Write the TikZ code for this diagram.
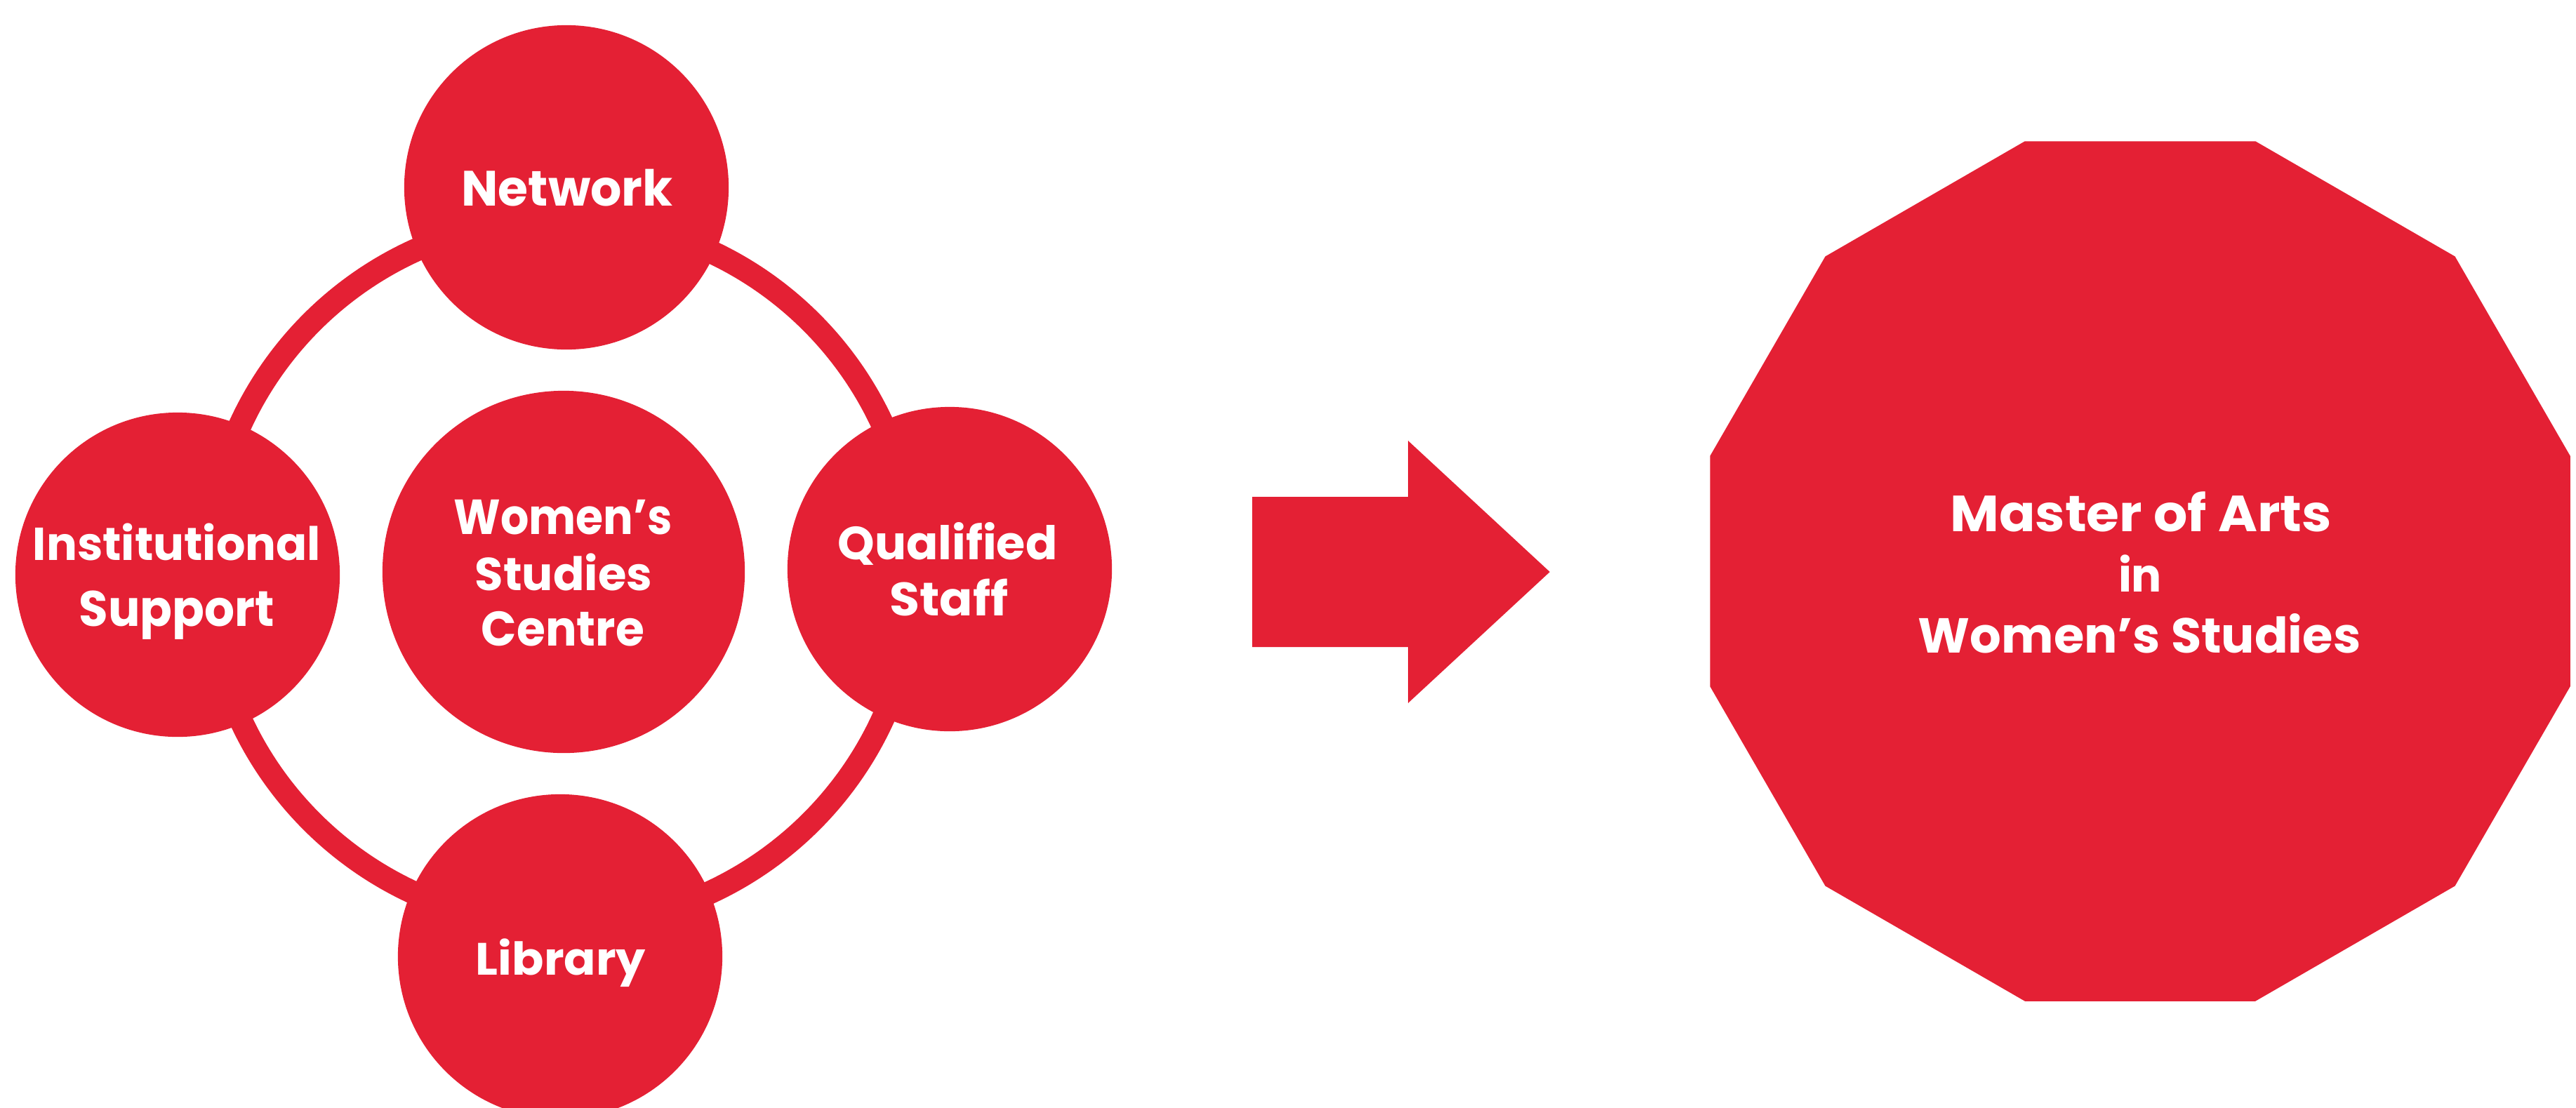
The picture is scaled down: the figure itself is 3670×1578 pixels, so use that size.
\documentclass[tikz,border=0pt]{standalone}
\usepackage{graphicx}
\usepackage{fontspec}
\newfontfamily\lab{Poppins}
\definecolor{wred}{RGB}{228,32,52}
% text fitted to a given width and height (in cm)
\newcommand\fitxt[3]{\resizebox{#1cm}{#2cm}{\lab\bfseries #3}}
\tikzset{
  bub/.style={circle, fill=wred, inner sep=0pt, minimum size=4.62cm},
  lbl/.style={text=white, anchor=base, inner sep=0pt}
}
\begin{document}
\begin{tikzpicture}[x=0.01cm, y=-0.01cm]
\useasboundingbox (0,0) rectangle (3670,1578);
% ring linking the four resources
\node[circle, draw=wred, line width=0.33cm, minimum size=10.06cm, inner sep=0pt] (ring) at (800,815) {};
% circles
\node[bub] (net) at (807,267) {};
\node[bub] (inst) at (253,819) {};
\node[bub] (qual) at (1353,811) {};
\node[bub] (lib) at (798,1363) {};
\node[bub, minimum size=5.16cm] (wsc) at (803,815) {};
% labels
\node[lbl] (net-t) at (808,293) {\fitxt{3.01}{0.523}{Network}};
\node[lbl] (inst-t1) at (252,798) {\fitxt{4.10}{0.526}{Institutional}};
\node[lbl] (inst-t2) at (252,892) {\fitxt{2.78}{0.506}{Support}};
\node[lbl] (qual-t1) at (1350,797) {\fitxt{3.13}{0.53}{Qualified}};
\node[lbl] (qual-t2) at (1352,877) {\fitxt{1.69}{0.524}{Staff}};
\node[lbl] (lib-t) at (799,1389) {\fitxt{2.42}{0.517}{Library}};
\node[lbl] (wsc-t1) at (802,761) {\fitxt{3.11}{0.492}{Women’s}};
\node[lbl] (wsc-t2) at (803,841) {\fitxt{2.52}{0.527}{Studies}};
\node[lbl] (wsc-t3) at (802,920) {\fitxt{2.32}{0.492}{Centre}};
% block arrow
\fill[wred] (1784,708) -- (2006,708) -- (2006,628) -- (2208,815) -- (2006,1002) -- (2006,922) -- (1784,922) -- cycle;
% dodecagon
\begin{scope}[shift={(3049,814)}]
\fill[wred] (15:6.34cm) -- (45:6.34cm) -- (75:6.34cm) -- (105:6.34cm) -- (135:6.34cm) -- (165:6.34cm) -- (195:6.34cm) -- (225:6.34cm) -- (255:6.34cm) -- (285:6.34cm) -- (315:6.34cm) -- (345:6.34cm) -- cycle;
\end{scope}
\node[lbl] (ma-t1) at (3050,757) {\fitxt{5.43}{0.567}{Master of Arts}};
\node[lbl] (ma-t2) at (3049,843) {\fitxt{0.62}{0.527}{in}};
\node[lbl] (ma-t3) at (3048,930) {\fitxt{6.30}{0.56}{Women’s Studies}};
\end{tikzpicture}
\end{document}
